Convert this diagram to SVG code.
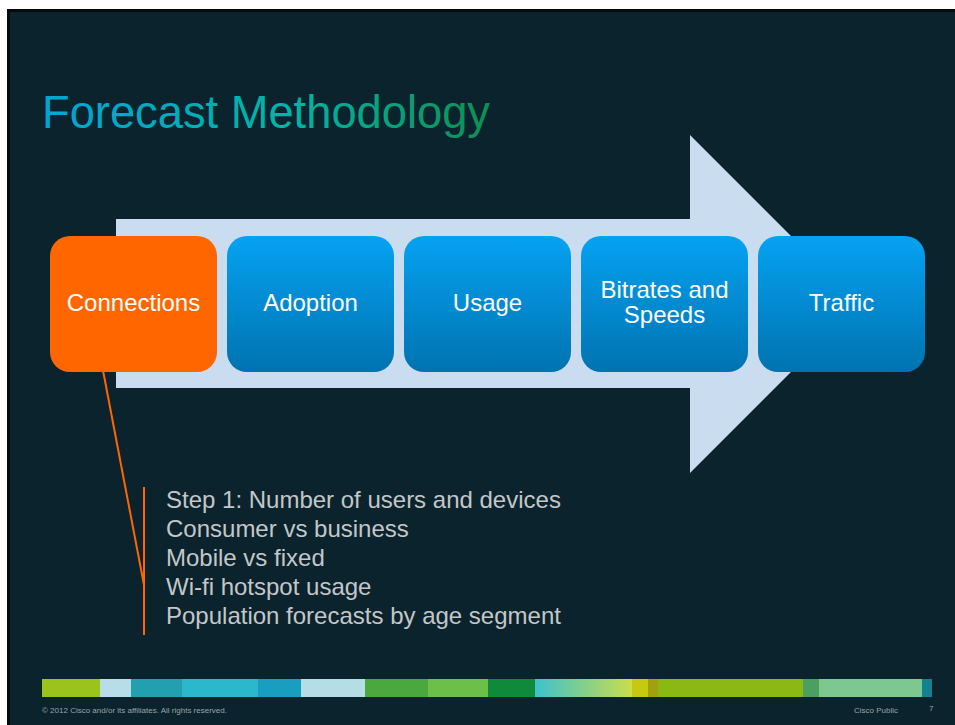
<svg xmlns="http://www.w3.org/2000/svg" width="955" height="725" viewBox="0 0 955 725">
<defs>
<style>
.lbl{font-family:"Liberation Sans",Arial,sans-serif;font-size:24px;fill:#ffffff;text-anchor:middle}
.bul{font-family:"Liberation Sans",Arial,sans-serif;font-size:24px;fill:#c3c7c9}
.foot{font-family:"Liberation Sans",Arial,sans-serif;font-size:8px;fill:#9aa3a7}
.conn{stroke:#ff6600;stroke-width:2;fill:none}
</style>
<linearGradient id="blue" x1="0" y1="0" x2="0" y2="1">
<stop offset="0" stop-color="#05a2f2"/>
<stop offset="1" stop-color="#0073b0"/>
</linearGradient>
<linearGradient id="title" x1="0" y1="0" x2="1" y2="0">
<stop offset="0" stop-color="#00a4d4"/>
<stop offset="0.55" stop-color="#00b4a8"/>
<stop offset="1" stop-color="#0f8f52"/>
</linearGradient>
<linearGradient id="seg" x1="0" y1="0" x2="1" y2="0">
<stop offset="0" stop-color="#3cc2cc"/>
<stop offset="1" stop-color="#cadd4c"/>
</linearGradient>
</defs>
<rect x="0" y="0" width="955" height="725" fill="#ffffff"/>
<rect x="7" y="9" width="948" height="716" fill="#050b0d"/>
<rect x="10" y="12" width="945" height="713" fill="#0b232d"/>
<text x="42" y="128" font-family="'Liberation Sans',Arial,sans-serif" font-size="46" fill="url(#title)" textLength="448" lengthAdjust="spacingAndGlyphs">Forecast Methodology</text>
<polygon points="116,219 690,219 690,135 859,304 690,473 690,388 116,388" fill="#c9dcf0"/>
<g id="connectors">
<line class="conn" x1="101" y1="360" x2="144" y2="585"/>
<line class="conn" x1="144" y1="487" x2="144" y2="635"/>
</g>
<g id="connections">
<rect x="50" y="236" width="167" height="136" rx="20" fill="#ff6600"/>
<text class="lbl" x="133.5" y="311">Connections</text>
</g>
<g id="adoption">
<rect x="227" y="236" width="167" height="136" rx="20" fill="url(#blue)"/>
<text class="lbl" x="310.5" y="311">Adoption</text>
</g>
<g id="usage">
<rect x="404" y="236" width="167" height="136" rx="20" fill="url(#blue)"/>
<text class="lbl" x="487.5" y="311">Usage</text>
</g>
<g id="bitrates">
<rect x="581" y="236" width="167" height="136" rx="20" fill="url(#blue)"/>
<text class="lbl" x="664.5" y="298">Bitrates and</text>
<text class="lbl" x="664.5" y="323">Speeds</text>
</g>
<g id="traffic">
<rect x="758" y="236" width="167" height="136" rx="20" fill="url(#blue)"/>
<text class="lbl" x="841.5" y="311">Traffic</text>
</g>
<g id="steps">
<text class="bul" x="166" y="508">Step 1: Number of users and devices</text>
<text class="bul" x="166" y="537">Consumer vs business</text>
<text class="bul" x="166" y="566">Mobile vs fixed</text>
<text class="bul" x="166" y="595">Wi-fi hotspot usage</text>
<text class="bul" x="166" y="624">Population forecasts by age segment</text>
</g>
<g id="stripe">
<rect x="42" y="679" width="58" height="18" fill="#9ac31c"/>
<rect x="100" y="679" width="31" height="18" fill="#b7dde8"/>
<rect x="131" y="679" width="51" height="18" fill="#22a0b0"/>
<rect x="182" y="679" width="76" height="18" fill="#2bb8cc"/>
<rect x="258" y="679" width="43" height="18" fill="#1a9ec0"/>
<rect x="301" y="679" width="64" height="18" fill="#b4dde6"/>
<rect x="365" y="679" width="63" height="18" fill="#4aa83e"/>
<rect x="428" y="679" width="60" height="18" fill="#6cc04a"/>
<rect x="488" y="679" width="47" height="18" fill="#0e8a3a"/>
<rect x="535" y="679" width="97" height="18" fill="url(#seg)"/>
<rect x="632" y="679" width="16" height="18" fill="#c8c810"/>
<rect x="648" y="679" width="10" height="18" fill="#a0a010"/>
<rect x="658" y="679" width="145" height="18" fill="#8cb814"/>
<rect x="803" y="679" width="16" height="18" fill="#4aa060"/>
<rect x="819" y="679" width="103" height="18" fill="#7cc890"/>
<rect x="922" y="679" width="10" height="18" fill="#158090"/>
</g>
<text class="foot" x="42" y="713">© 2012 Cisco and/or its affiliates. All rights reserved.</text>
<text class="foot" x="854" y="713">Cisco Public</text>
<text class="foot" x="929" y="711">7</text>
</svg>
